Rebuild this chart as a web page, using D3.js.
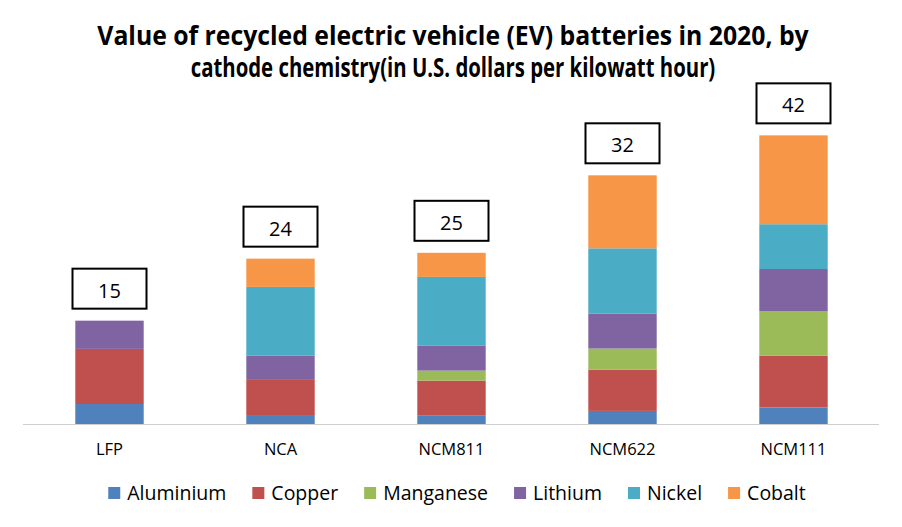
<!DOCTYPE html>
<html>
<head>
<meta charset="utf-8">
<script src="https://cdn.jsdelivr.net/npm/d3@7"></script>
<style>
  body { margin: 0; background: #fff; }
  svg { display: block; }
  text { font-family: "Open Sans", "Noto Sans", sans-serif; fill: #000; }
</style>
</head>
<body>
<svg id="chart" width="902" height="527"></svg>
<script>
var width = 902, height = 527;

// chemistries on the x axis
var chemistries = ["LFP", "NCA", "NCM811", "NCM622", "NCM111"];
// labelled totals in the boxes
var totals = [15, 24, 25, 32, 42];
// metal values, $/kWh (bottom to top)
var metals = ["Aluminium", "Copper", "Manganese", "Lithium", "Nickel", "Cobalt"];
var aluminium = [2.9, 1.3, 1.2, 1.9, 2.4];
var copper    = [8.0, 5.1, 5.1, 6.0, 7.5];
var manganese = [0, 0, 1.45, 3.05, 6.5];
var lithium   = [4.1, 3.5, 3.6, 5.1, 6.1];
var nickel    = [0, 10.0, 10.0, 9.45, 6.5];
var cobalt    = [0, 4.1, 3.5, 10.6, 12.9];

var colors = ["#4F81BD", "#C0504D", "#9BBB59", "#8064A2", "#4BACC6", "#F79646"];
var titleLines = ["Value of recycled electric vehicle (EV) batteries in 2020, by",
                  "cathode chemistry(in U.S. dollars per kilowatt hour)"];

var series = [aluminium, copper, manganese, lithium, nickel, cobalt];
var table = chemistries.map(function (c, i) {
    var row = { chem: c };
    metals.forEach(function (m, j) { row[m] = series[j][i]; });
    return row;
});

var svg = d3.select("#chart");

var x = d3.scaleBand()
    .domain(chemistries)
    .range([24, 879])
    .paddingInner(0.6)
    .paddingOuter(0.3);

var y = d3.scaleLinear()
    .domain([0, 45])
    .range([424, 114]);

var color = d3.scaleOrdinal().domain(metals).range(colors);

var stacked = d3.stack().keys(metals)(table);

// title - narrow the bold face horizontally to get close to the original width
var titleWidths = [712, 525];
titleLines.forEach(function (t, i) {
    var g = svg.append("g");
    var txt = g.append("text")
        .attr("x", 0)
        .attr("y", 0)
        .attr("text-anchor", "middle")
        .attr("font-weight", "bold")
        .attr("font-size", 26)
        .text(t);
    var w = txt.node().getComputedTextLength();
    var sx = Math.min(1, titleWidths[i] / w);
    g.attr("transform", "translate(453," + (45 + i * 32) + ") scale(" + sx + ",1)");
});

// bars
var chartGroup = svg.append("g").attr("class", "bars");
chartGroup.selectAll("g.layer")
    .data(stacked)
    .enter().append("g")
    .attr("class", "layer")
    .attr("fill", function (d) { return color(d.key); })
    .selectAll("rect")
    .data(function (d) { return d; })
    .enter().append("rect")
    .attr("x", function (d) { return x(d.data.chem); })
    .attr("y", function (d) { return y(d[1]); })
    .attr("width", x.bandwidth())
    .attr("height", function (d) { return y(d[0]) - y(d[1]); });

// baseline
svg.append("line")
    .attr("x1", 23).attr("x2", 879)
    .attr("y1", 424.5).attr("y2", 424.5)
    .attr("stroke", "#cfcfcf")
    .attr("stroke-width", 1);

// category labels
var xAxis = d3.axisBottom(x).tickSize(0).tickPadding(0);
var axisG = svg.append("g")
    .attr("transform", "translate(0,424)")
    .call(xAxis);
axisG.select(".domain").remove();
axisG.selectAll("text")
    .attr("dy", null)
    .attr("y", 31)
    .attr("font-size", 16.5)
    .attr("font-family", "Open Sans, Noto Sans, sans-serif")
    .attr("fill", "#000");

// total boxes
var boxW = 74, boxH = 40;
var tops = stacked[stacked.length - 1];
var boxes = svg.append("g").attr("class", "totals")
    .selectAll("g")
    .data(chemistries)
    .enter().append("g")
    .attr("transform", function (d, i) {
        var cx = x(d) + x.bandwidth() / 2;
        return "translate(" + (cx - boxW / 2) + "," + (y(tops[i][1]) - 12 - boxH) + ")";
    });
boxes.append("rect")
    .attr("width", boxW).attr("height", boxH)
    .attr("fill", "#fff")
    .attr("stroke", "#000")
    .attr("stroke-width", 2);
boxes.append("text")
    .attr("x", boxW / 2)
    .attr("y", 29)
    .attr("text-anchor", "middle")
    .attr("font-size", 20)
    .text(function (d, i) { return totals[i]; });

// legend
var legend = svg.append("g").attr("class", "legend");
var lx = 0;
metals.forEach(function (m) {
    var g = legend.append("g");
    g.append("rect")
        .attr("x", 0).attr("y", 487)
        .attr("width", 12).attr("height", 12)
        .attr("fill", color(m));
    var t = g.append("text")
        .attr("x", 19).attr("y", 500)
        .attr("font-size", 19.5)
        .text(m);
    var w = t.node().getComputedTextLength();
    g.attr("transform", "translate(" + lx + ",0)");
    lx += 19 + w + 26;
});
var legendW = lx - 26;
legend.attr("transform", "translate(" + (457 - legendW / 2) + ",0)");
</script>
</body>
</html>
